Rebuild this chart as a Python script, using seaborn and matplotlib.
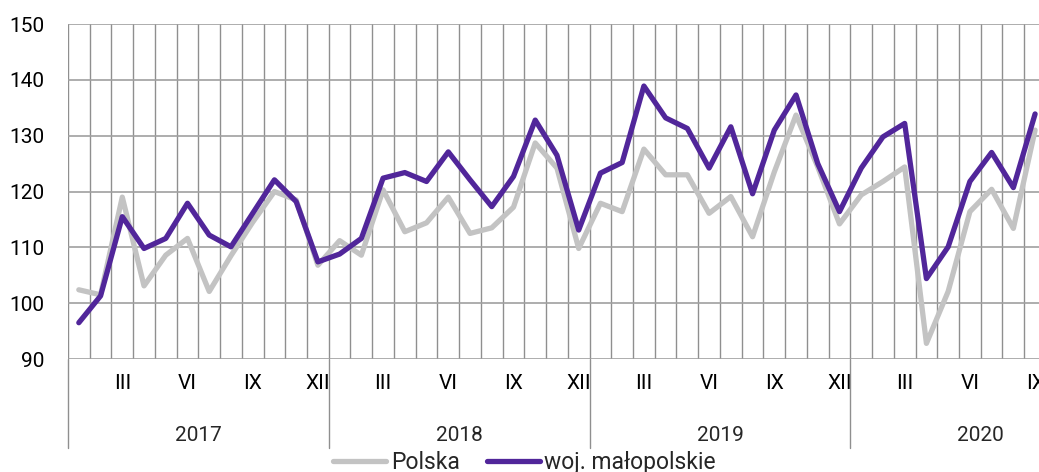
import matplotlib
matplotlib.use("Agg")
import matplotlib.pyplot as plt
import matplotlib.transforms as mtransforms
import seaborn as sns
import numpy as np
import pandas as pd

years = ["2017", "2018", "2019", "2020"]
month_labels = ["III", "VI", "IX", "XII"]

polska = [102.4, 101.5, 119.0, 103.1, 108.6, 111.6, 102.1, 108.5, 114.5, 120.0, 118.5, 106.8,
          111.2, 108.6, 120.3, 112.8, 114.4, 119.0, 112.5, 113.5, 117.2, 128.7, 124.2, 109.8,
          117.9, 116.4, 127.6, 123.0, 123.0, 116.1, 119.1, 111.9, 123.5, 133.7, 124.4, 114.2,
          119.4, 121.8, 124.4, 92.8, 102.1, 116.4, 120.4, 113.4, 131.0]
malopolskie = [96.5, 101.3, 115.5, 109.8, 111.6, 117.9, 112.2, 110.1, 116.1, 122.1, 118.2, 107.4,
               108.8, 111.6, 122.4, 123.4, 121.8, 127.1, 122.1, 117.3, 122.7, 132.8, 126.5, 113.1,
               123.3, 125.2, 138.9, 133.2, 131.3, 124.2, 131.6, 119.6, 131.0, 137.3, 125.0, 116.4,
               124.2, 129.8, 132.2, 104.4, 110.1, 121.8, 127.0, 120.7, 133.9]

months = np.arange(len(polska))
df = pd.DataFrame({"month": months, "Polska": polska, "woj. małopolskie": malopolskie})

sns.set_style("white")
plt.rcParams["font.family"] = ["Roboto", "DejaVu Sans"]

fig = plt.figure(figsize=(10.39, 4.72), dpi=100)
ax = fig.add_axes([0.0654, 0.2394, 0.9413, 0.7096])

sns.lineplot(data=df, x="month", y="Polska", color="#c3c3c3", linewidth=3.8,
             label="Polska", ax=ax)
sns.lineplot(data=df, x="month", y="woj. małopolskie", color="#51269a", linewidth=3.8,
             label="woj. małopolskie", ax=ax)

ax.set_xlim(-0.5, len(months) - 0.5)
ax.set_ylim(90, 150)
ax.set_yticks(np.arange(90, 151, 10))
ax.set_xlabel("")
ax.set_ylabel("")

# month labels under every third month
tick_pos = [m for m in months if m % 3 == 2]
ax.set_xticks(tick_pos)
ax.set_xticklabels([month_labels[(m % 12) // 3] for m in tick_pos])
ax.set_xticks(np.arange(-0.5, len(months)), minor=True)
ax.tick_params(axis="x", which="both", length=0, pad=11, labelsize=15, colors="#000000")
ax.tick_params(axis="y", length=0, pad=17, labelsize=15, colors="#000000")

ax.grid(False)
ax.grid(axis="x", which="minor", color="#8f8f8f", linewidth=1.0)
ax.grid(axis="y", which="major", color="#a0a0a0", linewidth=1.2)
ax.set_axisbelow(True)
for s in ax.spines.values():
    s.set_visible(False)

# year groups below the axis
trans = mtransforms.blended_transform_factory(ax.transData, ax.transAxes)
for i, yr in enumerate(years):
    start = i * 12 - 0.5
    ax.plot([start, start], [0, -0.266], transform=trans, color="#8f8f8f",
            linewidth=1.0, clip_on=False)
    ax.text(i * 12 + 5.5, -0.227, yr, transform=trans, ha="center", va="center",
            fontsize=15)

ax.legend(loc="center", bbox_to_anchor=(0.505, 0.021), bbox_transform=fig.transFigure,
          ncol=2, frameon=False, fontsize=16.5, handlelength=2.3, handletextpad=0.2,
          columnspacing=1.2, borderpad=0, borderaxespad=0)

fig.savefig("out.png", dpi=100)
